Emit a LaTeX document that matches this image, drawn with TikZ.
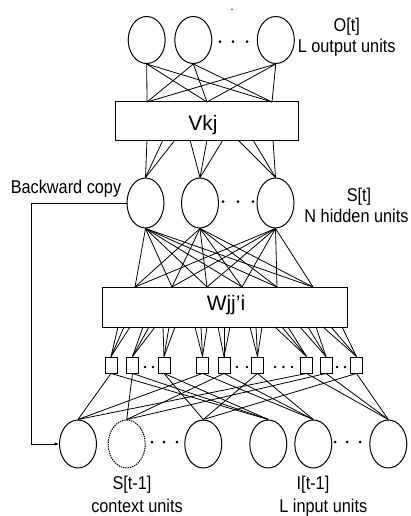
\documentclass[tikz,border=0pt]{standalone}
\usepackage{fontspec}
\setmainfont{Liberation Sans}
\newfontfamily\narrowsans[FakeStretch=0.88]{Liberation Sans}
\usetikzlibrary{shapes.geometric,arrows.meta}
\begin{document}
\begin{tikzpicture}[x=1pt,y=-1pt,
  unit/.style={draw,ellipse,line width=1pt,minimum width=37pt,minimum height=48pt,inner sep=0pt},
  wbox/.style={draw,rectangle,line width=1pt,inner sep=0pt},
  prod/.style={draw,rectangle,line width=0.9pt,minimum width=12pt,minimum height=16pt,inner sep=0pt},
  link/.style={line width=0.8pt},
  lbl/.style={font=\narrowsans\fontsize{18.5}{22}\selectfont,inner sep=0pt,anchor=base},
  wlbl/.style={font=\fontsize{21}{24}\selectfont,inner sep=0pt,anchor=base},
  dot/.style={circle,fill,inner sep=0pt,minimum size=3pt}
]
\useasboundingbox (0,0) rectangle (410,516);

% ---- output layer O[t]
\node[unit,minimum height=47pt] (o1) at (146.7,40) {};
\node[unit,minimum height=47pt] (o2) at (193.3,40) {};
\node[unit,minimum height=47pt] (o3) at (275.8,40) {};
\foreach \x [count=\i] in {220,233,247} \node[dot] (od\i) at (\x,41.7) {};
\node[dot,minimum size=2pt,fill=black!60] (stray) at (232,9.3) {};

% ---- weight box Vkj
\node[wbox,minimum width=183pt,minimum height=38pt] (V) at (206.5,121) {};
\node[wlbl] (Vt) at (203,131) {Vkj};

% output units <-> Vkj (fully connected)
\foreach \x [count=\i] in {147,207,272} \coordinate (vt\i) at (\x,102);
\foreach \o in {1,2,3}
  \foreach \t in {1,2,3}
    \draw[link] (o\o.south) -- (vt\t);

% ---- hidden layer S[t]
\node[unit,minimum height=50pt] (h1) at (145.5,203) {};
\node[unit,minimum height=50pt] (h2) at (200,203) {};
\node[unit,minimum height=50pt] (h3) at (275.5,203) {};
\foreach \x [count=\i] in {223,238,253} \node[dot] (hd\i) at (\x,201.7) {};

% Vkj -> hidden units (three lines per unit)
\foreach \x/\h [count=\i] in {147/1,163/1,175/1,190/2,207/2,223/2,238/3,253/3,273/3} {
  \coordinate (vb\i) at (\x,140);
  \draw[link] (vb\i) -- (h\h.north);
}

% ---- weight box Wjj'i
\node[wbox,minimum width=245pt,minimum height=40pt] (W) at (224.5,307) {};
\node[wlbl] (Wt) at (226,310) {Wjj'i};

% hidden units -> Wjj'i (fully connected)
\foreach \x [count=\i] in {135,172,207,242,277,313} \coordinate (wt\i) at (\x,287);
\foreach \h in {1,2,3}
  \foreach \t in {1,...,6}
    \draw[link] (h\h.south) -- (wt\t);

% ---- product units
\foreach \x [count=\i] in {111,132.5,164,202.5,224,257.5,306.5,326,356.5}
  \node[prod] (s\i) at (\x,365) {};
\foreach \x [count=\i] in {145,153,237,247,275,283.5,292,337,345}
  \node[dot,minimum size=2.6pt] (sd\i) at (\x,367) {};

% Wjj'i -> product units (three lines per unit)
\foreach \i/\a/\b/\c in {1/118/124/130,2/143/149/155,3/163/169/175,
                         4/195/201/207,5/218/224/230,6/250/256/262,
                         7/275/282/288,8/300/308/316,9/323/331/342} {
  \coordinate (fa\i) at (\a,327);
  \coordinate (fb\i) at (\b,327);
  \coordinate (fc\i) at (\c,327);
  \draw[link] (fa\i) -- (s\i.north);
  \draw[link] (fb\i) -- (s\i.north);
  \draw[link] (fc\i) -- (s\i.north);
}

% ---- input layer: context units S[t-1] and input units I[t-1]
\node[unit] (c1) at (78,444) {};
\node[unit,dash pattern=on 1.4pt off 0.9pt] (c2) at (126.7,444) {};
\node[unit] (c3) at (203.3,444) {};
\node[unit] (c4) at (268.3,444) {};
\node[unit] (c5) at (313.3,444) {};
\node[unit] (c6) at (388.3,444) {};
\foreach \x [count=\i] in {152,164,177,335,347,360} \node[dot] (cd\i) at (\x,442) {};

% each product unit joins one context unit and one input unit
\foreach \g in {1,2,3}
  \foreach \k in {1,2,3} {
    \pgfmathtruncatemacro\sq{(\g-1)*3+\k}
    \pgfmathtruncatemacro\inp{\g+3}
    \draw[link] (s\sq.south) -- (c\k.north);
    \draw[link] (s\sq.south) -- (c\inp.north);
  }

% backward copy of the hidden state
\draw[link,line width=0.9pt,-{Latex[length=4.5pt,width=3.5pt]}] (h1.west) -- ++(-95,0) |- (c1.west);

% ---- labels
\node[lbl] (lo1) at (346.7,32) {O[t]};
\node[lbl] (lo2) at (346.7,53) {L output units};
\node[lbl] (lh1) at (359,201) {S[t]};
\node[lbl] (lh2) at (356.5,222) {N hidden units};
\node[lbl] (lb) at (66,193) {Backward copy};
\node[lbl] (li1) at (132,489) {S[t-1]};
\node[lbl] (li2) at (137,512) {context units};
\node[lbl] (li3) at (313,489) {I[t-1]};
\node[lbl] (li4) at (323.3,512) {L input units};
\end{tikzpicture}
\end{document}
